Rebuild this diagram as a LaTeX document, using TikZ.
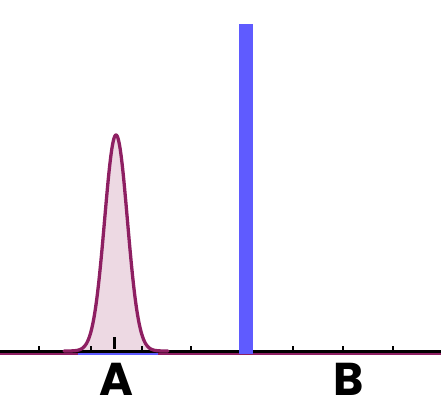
\documentclass[tikz,border=0pt]{standalone}
\usepackage{fontspec}
\newfontfamily\handfont{Poppins}
\definecolor{peakline}{HTML}{8E1F62}
\definecolor{peakfill}{HTML}{EDD9E3}
\definecolor{barblue}{HTML}{5F5BFF}
\tikzset{
  tickmark/.style={line width=1.3pt,black},
  lbl/.style={font=\handfont\bfseries\fontsize{46}{46}\selectfont, inner sep=0pt}
}
\begin{document}
\begin{tikzpicture}[x=1pt,y=-1pt]
\useasboundingbox (0,0) rectangle (441,410);
% peak fill and outline
\fill[peakfill] plot[domain=72:160,samples=120,smooth] (\x,{352-217*exp(-((\x-116)^2)/260)}) -- cycle;
% underlines
\draw[peakline,line width=1.2pt] (0,354) -- (441,354);
\draw[barblue,line width=1.2pt] (78,354) -- (158,354);
% axis
\draw[black,line width=2.4pt] (0,351.5) -- (441,351.5);
\draw[peakline,line width=3.3pt,line cap=round,line join=round] plot[domain=64:168,samples=140,smooth] (\x,{351-216*exp(-((\x-116)^2)/260)});
% ticks
\foreach \t in {39,91,142,191,293,343,393} \draw[tickmark] (\t,346) -- (\t,351);
% center mark
\draw[black,line width=3pt] (114,337) -- (114,349);
% blue bar
\fill[barblue] (239,24) rectangle (253,354);
% labels
\node[lbl] (A) at (116,379) {A};
\node[lbl] (B) at (349,379) {B};
\end{tikzpicture}
\end{document}
